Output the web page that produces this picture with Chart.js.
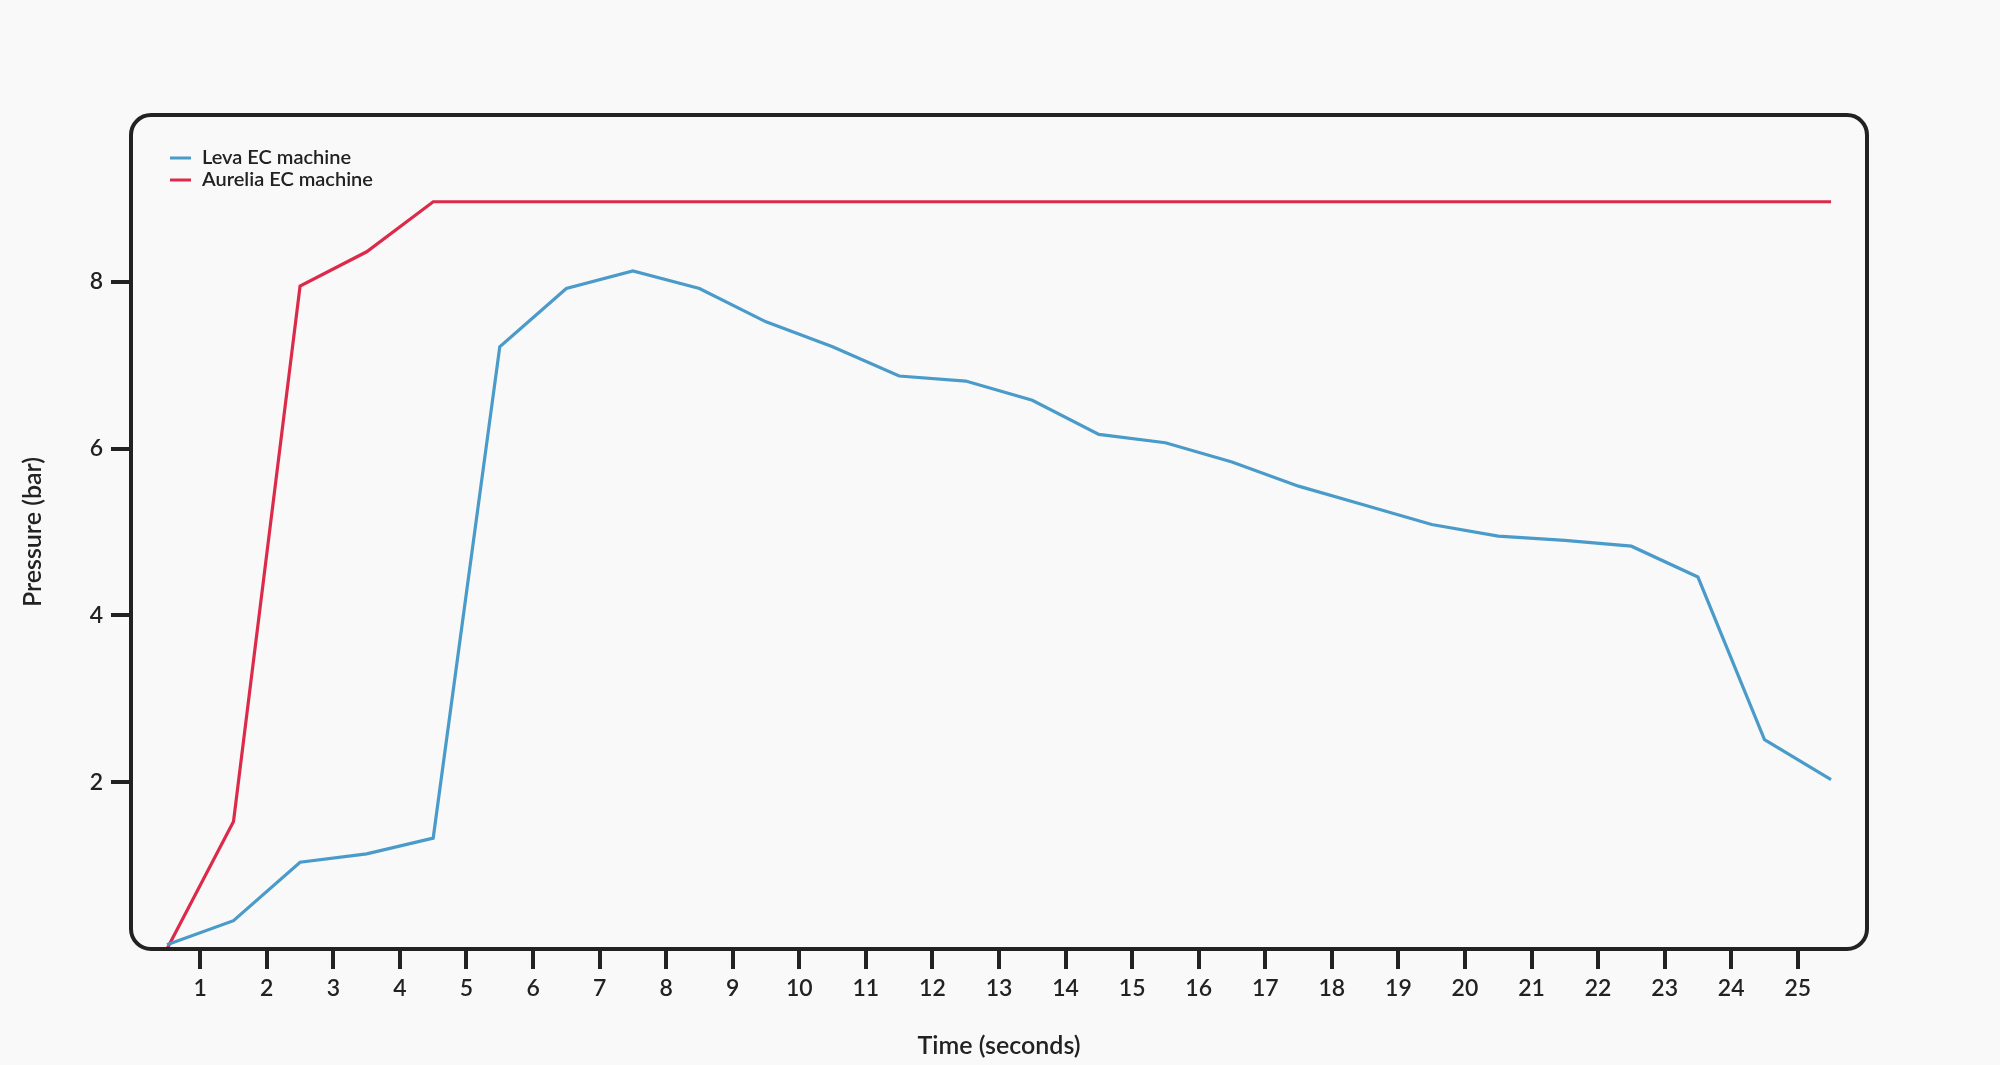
<!DOCTYPE html>
<html><head><meta charset="utf-8">
<script src="https://cdn.jsdelivr.net/npm/chart.js@4"></script>
<style>html,body{margin:0;background:#f9f9f9;}#c{display:block}</style>
</head><body>
<canvas id="c" width="2000" height="1065"></canvas>
<script>
const times = [0.5,1.5,2.5,3.5,4.5,5.5,6.5,7.5,8.5,9.5,10.5,11.5,12.5,13.5,14.5,15.5,16.5,17.5,18.5,19.5,20.5,21.5,22.5,23.5,24.5,25.5];
const leva = [0.05,0.34,1.04,1.14,1.33,7.22,7.92,8.13,7.92,7.52,7.22,6.87,6.81,6.58,6.17,6.07,5.84,5.55,5.32,5.09,4.95,4.90,4.83,4.46,2.51,2.03];
const aurelia = [0.0,1.53,7.95,8.36,8.96,8.96,8.96,8.96,8.96,8.96,8.96,8.96,8.96,8.96,8.96,8.96,8.96,8.96,8.96,8.96,8.96,8.96,8.96,8.96,8.96,8.96];
const xTicks = [1,2,3,4,5,6,7,8,9,10,11,12,13,14,15,16,17,18,19,20,21,22,23,24,25];
const yTicks = [2,4,6,8];
const names = ['Leva EC machine','Aurelia EC machine'];
const colors = ['#4a9bc9','#dc2a4b'];
const FONT = 'Lato';
const ink = '#222222';

const boxPlugin = {
  id:'box',
  afterDraw(chart){
    const {ctx, chartArea:a} = chart;
    ctx.save();
    ctx.strokeStyle = ink; ctx.lineWidth = 4;
    ctx.beginPath(); ctx.roundRect(a.left, a.top, a.right-a.left, a.bottom-a.top, 20); ctx.stroke();
    ctx.font = '600 20px '+FONT; ctx.textBaseline='middle'; ctx.fillStyle = ink;
    chart.data.datasets.forEach((d,i)=>{
      const y = a.top + 43 + i*22;
      ctx.strokeStyle = d.borderColor; ctx.lineWidth = 3;
      ctx.beginPath(); ctx.moveTo(a.left+39,y); ctx.lineTo(a.left+60,y); ctx.stroke();
      ctx.fillText(d.label, a.left+71, y);
    });
    ctx.restore();
  }
};

new Chart(document.getElementById('c'), {
  type:'line',
  data:{ datasets:[
    {label:names[0], data:times.map((t,i)=>({x:t,y:leva[i]})), borderColor:colors[0], borderWidth:3.2, pointRadius:0, tension:0},
    {label:names[1], data:times.map((t,i)=>({x:t,y:aurelia[i]})), borderColor:colors[1], borderWidth:3.2, pointRadius:0, tension:0}
  ]},
  options:{
    responsive:false, animation:false,
    layout:{padding:{left:0,right:133,top:115,bottom:0}},
    plugins:{legend:{display:false}, tooltip:{enabled:false}},
    scales:{
      x:{type:'linear', min:-0.04, max:26.04,
        afterBuildTicks(s){ s.ticks = xTicks.map(v=>({value:v})); },
        afterFit(s){ s.height = 116; },
        grid:{drawOnChartArea:false, drawTicks:true, tickLength:20, tickColor:ink, lineWidth:4},
        border:{display:false},
        ticks:{color:ink, font:{family:FONT,size:23,weight:'600'}, padding:6, maxRotation:0, autoSkip:false},
        title:{display:true, text:'Time (seconds)', color:ink, font:{family:FONT,size:25,weight:'600'}, padding:{top:0}}
      },
      y:{min:0, max:10,
        afterBuildTicks(s){ s.ticks = yTicks.map(v=>({value:v})); },
        afterFit(s){ s.width = 131; },
        grid:{drawOnChartArea:false, drawTicks:true, tickLength:20, tickColor:ink, lineWidth:4},
        border:{display:false},
        ticks:{color:ink, font:{family:FONT,size:23,weight:'600'}, padding:8},
        title:{display:true, text:'Pressure (bar)', color:ink, font:{family:FONT,size:25,weight:'600'}, padding:{top:18,bottom:10}}
      }
    }
  },
  plugins:[boxPlugin]
});
</script>
</body></html>
